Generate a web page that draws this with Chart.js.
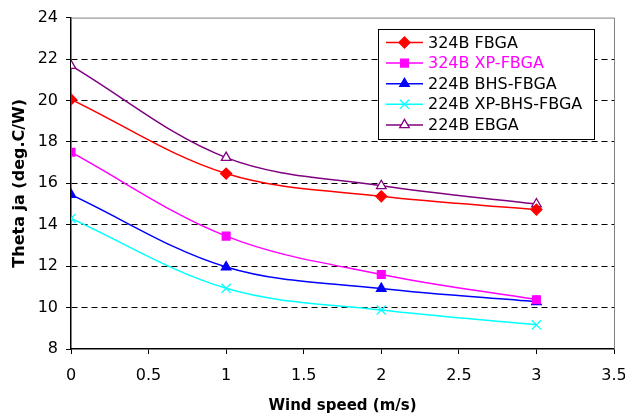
<!DOCTYPE html>
<html>
<head>
<meta charset="utf-8">
<script src="https://cdn.jsdelivr.net/npm/chart.js@4"></script>
<style>
  html, body { margin: 0; padding: 0; background: #fff; }
  #wrap { width: 625px; height: 417px; }
</style>
</head>
<body>
<div id="wrap"><canvas id="thetaChart"></canvas></div>
<script>
// data
const windSpeeds = [0, 1, 2, 3];
const fbga324 = [20.05, 16.47, 15.37, 14.73];
const xpFbga324 = [17.5, 13.45, 11.6, 10.38];
const bhsFbga224 = [15.45, 11.96, 10.92, 10.28];
const xpBhsFbga224 = [14.3, 10.93, 9.88, 9.17];
const ebga224 = [21.68, 17.24, 15.88, 15.0];
const seriesNames = ['324B FBGA', '324B XP-FBGA', '224B BHS-FBGA', '224B XP-BHS-FBGA', '224B EBGA'];
const yTicks = [8, 10, 12, 14, 16, 18, 20, 22, 24];
const xTicks = [0, 0.5, 1, 1.5, 2, 2.5, 3, 3.5];

const FONT = 'DejaVu Sans';

function pts(vals) {
  return windSpeeds.map((x, i) => ({ x: x, y: vals[i] }));
}

const styles = [
  { color: '#ff0000', fill: '#ff0000', pointStyle: 'rectRot', radius: 5.5, textColor: '#000' },
  { color: '#ff00ff', fill: '#ff00ff', pointStyle: 'rect', radius: 5.5, textColor: '#ff00ff' },
  { color: '#0000ff', fill: '#0000ff', pointStyle: 'triangle', radius: 5.5, textColor: '#000' },
  { color: '#00ffff', fill: '#00ffff', pointStyle: 'crossRot', radius: 6.5, textColor: '#000' },
  { color: '#800080', fill: '#ffffff', pointStyle: 'triangle', radius: 5.5, textColor: '#000' }
];
const allSeries = [fbga324, xpFbga324, bhsFbga224, xpBhsFbga224, ebga224];

const datasets = allSeries.map((vals, i) => ({
  label: seriesNames[i],
  data: pts(vals),
  borderColor: styles[i].color,
  backgroundColor: styles[i].fill,
  borderWidth: 1.5,
  tension: 0.35,
  pointStyle: styles[i].pointStyle,
  pointRadius: styles[i].radius,
  pointBorderWidth: 1.3,
  pointBorderColor: styles[i].color,
  pointBackgroundColor: styles[i].fill
}));

// legend box inside the plot + gray top/right frame
const boxLegend = {
  id: 'boxLegend',
  afterDraw(chart) {
    const ctx = chart.ctx;
    const area = chart.chartArea;
    ctx.save();
    ctx.strokeStyle = '#808080';
    ctx.lineWidth = 1;
    ctx.beginPath();
    ctx.moveTo(area.left, area.top + 0.5);
    ctx.lineTo(area.right + 0.5, area.top + 0.5);
    ctx.lineTo(area.right + 0.5, area.bottom);
    ctx.stroke();

    const bx = 378.5, by = 29.5, bw = 216, bh = 110;
    ctx.fillStyle = '#fff';
    ctx.fillRect(bx, by, bw, bh);
    ctx.strokeStyle = '#000';
    ctx.strokeRect(bx, by, bw, bh);

    ctx.font = '16px "' + FONT + '"';
    ctx.textBaseline = 'middle';
    chart.data.datasets.forEach((ds, i) => {
      const y = 42.5 + i * 20.6;
      ctx.strokeStyle = styles[i].color;
      ctx.lineWidth = 1.5;
      ctx.beginPath();
      ctx.moveTo(386, y);
      ctx.lineTo(423, y);
      ctx.stroke();
      ctx.fillStyle = styles[i].fill;
      ctx.lineWidth = 1.3;
      Chart.helpers.drawPoint(ctx, {
        pointStyle: styles[i].pointStyle,
        radius: styles[i].radius,
        rotation: 0,
        borderWidth: 1.3
      }, 404.5, y);
      ctx.fillStyle = styles[i].textColor;
      ctx.fillText(ds.label, 428, y + 1);
    });
    ctx.restore();
  }
};

new Chart(document.getElementById('thetaChart'), {
  type: 'line',
  data: { datasets: datasets },
  options: {
    responsive: true,
    maintainAspectRatio: false,
    animation: false,
    layout: { padding: { top: 16, right: 11, left: 0, bottom: 0 } },
    plugins: {
      legend: { display: false },
      tooltip: { enabled: false }
    },
    scales: {
      x: {
        type: 'linear',
        min: 0,
        max: 3.5,
        afterBuildTicks(scale) { scale.ticks = xTicks.map(v => ({ value: v })); },
        afterFit(scale) {
          scale.height = 68;
          scale.paddingRight = 0;
          scale.paddingLeft = 0;
        },
        border: { display: true, color: '#000', width: 1.5 },
        grid: {
          drawOnChartArea: false,
          drawTicks: true,
          tickLength: 5,
          tickColor: '#000'
        },
        ticks: {
          color: '#000',
          padding: 12,
          maxRotation: 0,
          font: { family: FONT, size: 16 },
          callback: v => String(v)
        },
        title: {
          display: true,
          text: 'Wind speed (m/s)',
          color: '#000',
          font: { family: FONT, size: 15, weight: 'bold' },
          padding: { top: 0, bottom: 2 }
        }
      },
      y: {
        min: 8,
        max: 24,
        afterBuildTicks(scale) { scale.ticks = yTicks.map(v => ({ value: v })); },
        afterFit(scale) { scale.width = 71; },
        border: { display: true, color: '#000', width: 1.5, dash: [6, 4] },
        grid: {
          color: c => (c.tick && (c.tick.value === 24 || c.tick.value === 8)) ? 'rgba(0,0,0,0)' : '#000',
          lineWidth: 1,
          drawTicks: true,
          tickLength: 5,
          tickColor: '#000',
          tickBorderDash: []
        },
        ticks: {
          color: '#000',
          padding: 8,
          font: { family: FONT, size: 16 }
        },
        title: {
          display: true,
          text: 'Theta ja (deg.C/W)',
          color: '#000',
          font: { family: FONT, size: 16, weight: 'bold' },
          padding: { top: 10, bottom: 0 }
        }
      }
    }
  },
  plugins: [boxLegend]
});
</script>
</body>
</html>
